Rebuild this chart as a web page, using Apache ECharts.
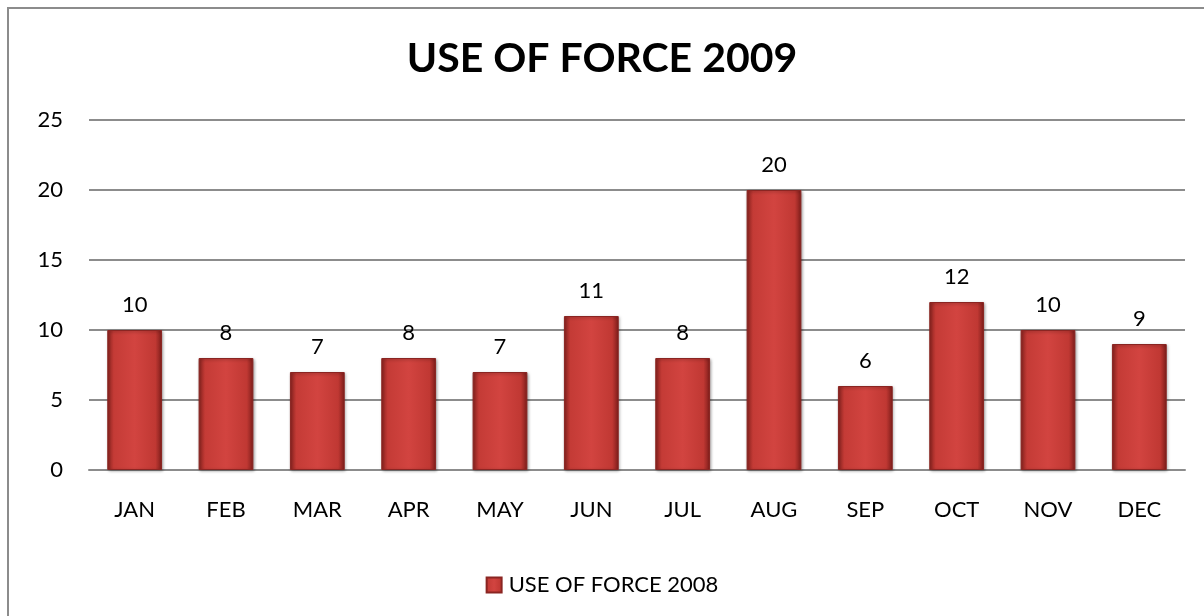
<!DOCTYPE html>
<html><head><meta charset="utf-8">
<script src="https://cdn.jsdelivr.net/npm/echarts@6/dist/echarts.min.js"></script>
<style>
html,body{margin:0;padding:0;background:#fff;}
#frame{position:absolute;left:7px;top:7px;width:1204px;height:620px;border-left:2px solid #8c8c8c;border-top:2px solid #8c8c8c;box-sizing:border-box;}
#c{position:absolute;left:0;top:0;width:1204px;height:616px;}
</style></head>
<body>
<div id="frame"></div>
<div id="c"></div>
<script>
const titleText = 'USE OF FORCE 2009';
const seriesName = 'USE OF FORCE 2008';
const categories = ['JAN','FEB','MAR','APR','MAY','JUN','JUL','AUG','SEP','OCT','NOV','DEC'];
const values = [10,8,7,8,7,11,8,20,6,12,10,9];
const yMin = 0, yMax = 25, yStep = 5;

const font = 'Lato, "Open Sans", sans-serif';
const chart = echarts.init(document.getElementById('c'));
const barFill = new echarts.graphic.LinearGradient(0,0,1,0,[
  {offset:0,color:'#8e2420'},
  {offset:0.12,color:'#c43b36'},
  {offset:0.5,color:'#d24440'},
  {offset:0.88,color:'#c03833'},
  {offset:1,color:'#7d1d1a'}
]);
chart.setOption({
  animation:false,
  title:{text:titleText,left:'center',top:33,textStyle:{fontFamily:font,fontSize:41,fontWeight:'bold',color:'#000'}},
  grid:{left:89,right:19,top:120,bottom:146},
  legend:{top:569,left:'center',itemWidth:15,itemHeight:15,itemGap:10,icon:'rect',textStyle:{fontFamily:font,fontSize:22,color:'#000',padding:[0,0,0,2]},data:[seriesName]},
  xAxis:{type:'category',data:categories,
    axisLine:{lineStyle:{color:'#8c8c8c',width:2}},axisTick:{show:false},
    axisLabel:{fontFamily:font,fontSize:22,color:'#000',margin:29}},
  yAxis:{type:'value',min:yMin,max:yMax,interval:yStep,
    axisLine:{show:false},axisTick:{show:false},
    splitLine:{lineStyle:{color:'#8c8c8c',width:2}},
    axisLabel:{fontFamily:font,fontSize:22,color:'#000',margin:26}},
  series:[{name:seriesName,type:'bar',data:values,barCategoryGap:'40%',
    itemStyle:{color:barFill,borderColor:'#8a2522',borderWidth:1,shadowColor:'rgba(0,0,0,0.35)',shadowBlur:3,shadowOffsetX:1,shadowOffsetY:1},
    label:{show:true,position:'top',distance:14,fontFamily:font,fontSize:22,color:'#000'}}]
});
</script>
</body></html>
